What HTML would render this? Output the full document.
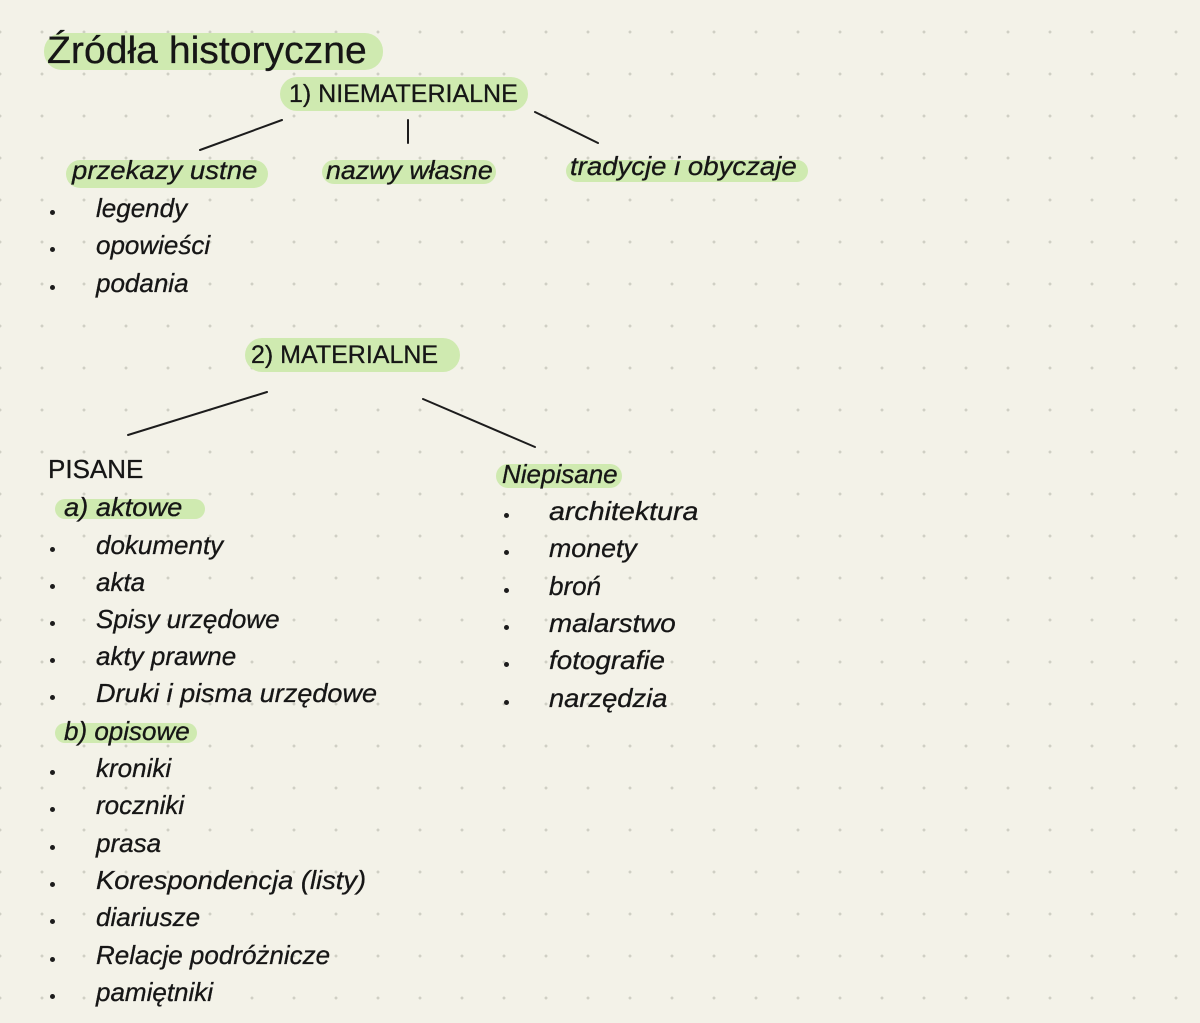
<!DOCTYPE html>
<html><head><meta charset="utf-8"><style>
html,body{margin:0;padding:0}
body{width:1200px;height:1023px;position:relative;overflow:hidden;background-color:#f3f2e8;
background-image:radial-gradient(circle,#cfcfc4 1.3px,transparent 1.6px);background-size:42px 42px;background-position:21px 11px;
font-family:"Liberation Sans","DejaVu Sans",sans-serif;color:#161616}
.t{position:absolute;white-space:nowrap;font-size:26px;font-style:italic;line-height:1;transform:scaleX(1.0);transform-origin:left center;-webkit-text-stroke:0.3px #161616}
.h{position:absolute;background:#cfeab0;border-radius:14px}
.d{position:absolute;width:5px;height:5px;border-radius:50%;background:#1c1c1c}
svg{position:absolute;left:0;top:0}
</style></head><body>
<div class="h" style="left:44px;top:33px;width:339px;height:37px;border-radius:18px"></div>
<div class="h" style="left:280px;top:77px;width:248px;height:34px;border-radius:17px"></div>
<div class="h" style="left:66px;top:160px;width:202px;height:28px"></div>
<div class="h" style="left:322px;top:160px;width:174px;height:24px"></div>
<div class="h" style="left:566px;top:160px;width:242px;height:22px"></div>
<div class="h" style="left:245px;top:338px;width:215px;height:34px;border-radius:17px"></div>
<div class="h" style="left:55px;top:499px;width:150px;height:20px"></div>
<div class="h" style="left:55px;top:723px;width:142px;height:20px"></div>
<div class="h" style="left:496px;top:464px;width:126px;height:24px"></div>

<div class="t" style="left:47px;top:32px;font-size:38px;font-style:normal;line-height:38px;transform:scaleX(1.03)">Źródła historyczne</div>
<div class="t" style="left:289px;top:82px;font-style:normal;font-size:25px">1) NIEMATERIALNE</div>
<div class="t" style="left:72px;top:157px;transform:scaleX(1.06)">przekazy ustne</div>
<div class="t" style="left:326px;top:157px;transform:scaleX(1.03)">nazwy własne</div>
<div class="t" style="left:570px;top:153px;transform:scaleX(1.06)">tradycje i obyczaje</div>

<div class="d" style="left:50px;top:210px"></div><div class="t" style="left:96px;top:195px">legendy</div>
<div class="d" style="left:50px;top:247px"></div><div class="t" style="left:96px;top:232px">opowieści</div>
<div class="d" style="left:50px;top:285px"></div><div class="t" style="left:96px;top:270px">podania</div>

<div class="t" style="left:251px;top:343px;font-style:normal;font-size:25px">2) MATERIALNE</div>
<div class="t" style="left:48px;top:456px;font-style:normal">PISANE</div>
<div class="t" style="left:64px;top:494px;transform:scaleX(1.05)">a) aktowe</div>
<div class="t" style="left:502px;top:461px">Niepisane</div>

<div class="d" style="left:50px;top:547px"></div><div class="t" style="left:96px;top:532px">dokumenty</div>
<div class="d" style="left:50px;top:584px"></div><div class="t" style="left:96px;top:569px">akta</div>
<div class="d" style="left:50px;top:621px"></div><div class="t" style="left:96px;top:606px">Spisy urzędowe</div>
<div class="d" style="left:50px;top:658px"></div><div class="t" style="left:96px;top:643px">akty prawne</div>
<div class="d" style="left:50px;top:695px"></div><div class="t" style="left:96px;top:680px;transform:scaleX(1.04)">Druki i pisma urzędowe</div>
<div class="t" style="left:64px;top:718px">b) opisowe</div>
<div class="d" style="left:50px;top:770px"></div><div class="t" style="left:96px;top:755px">kroniki</div>
<div class="d" style="left:50px;top:807px"></div><div class="t" style="left:96px;top:792px">roczniki</div>
<div class="d" style="left:50px;top:845px"></div><div class="t" style="left:96px;top:830px">prasa</div>
<div class="d" style="left:50px;top:882px"></div><div class="t" style="left:96px;top:867px;transform:scaleX(1.05)">Korespondencja (listy)</div>
<div class="d" style="left:50px;top:919px"></div><div class="t" style="left:96px;top:904px">diariusze</div>
<div class="d" style="left:50px;top:957px"></div><div class="t" style="left:96px;top:942px">Relacje podróżnicze</div>
<div class="d" style="left:50px;top:994px"></div><div class="t" style="left:96px;top:979px">pamiętniki</div>

<div class="d" style="left:504px;top:513px"></div><div class="t" style="left:549px;top:498px;transform:scaleX(1.1)">architektura</div>
<div class="d" style="left:504px;top:550px"></div><div class="t" style="left:549px;top:535px;transform:scaleX(1.03)">monety</div>
<div class="d" style="left:504px;top:588px"></div><div class="t" style="left:549px;top:573px">broń</div>
<div class="d" style="left:504px;top:625px"></div><div class="t" style="left:549px;top:610px;transform:scaleX(1.07)">malarstwo</div>
<div class="d" style="left:504px;top:662px"></div><div class="t" style="left:549px;top:647px;transform:scaleX(1.07)">fotografie</div>
<div class="d" style="left:504px;top:700px"></div><div class="t" style="left:549px;top:685px;transform:scaleX(1.05)">narzędzia</div>

<svg width="1200" height="1023" stroke="#1c1c1c" stroke-width="2" stroke-linecap="round">
<line x1="200" y1="150" x2="282" y2="120"/>
<line x1="408" y1="120" x2="408" y2="143"/>
<line x1="535" y1="112" x2="598" y2="143"/>
<line x1="128" y1="435" x2="267" y2="392"/>
<line x1="423" y1="399" x2="535" y2="447"/>
</svg>
</body></html>
